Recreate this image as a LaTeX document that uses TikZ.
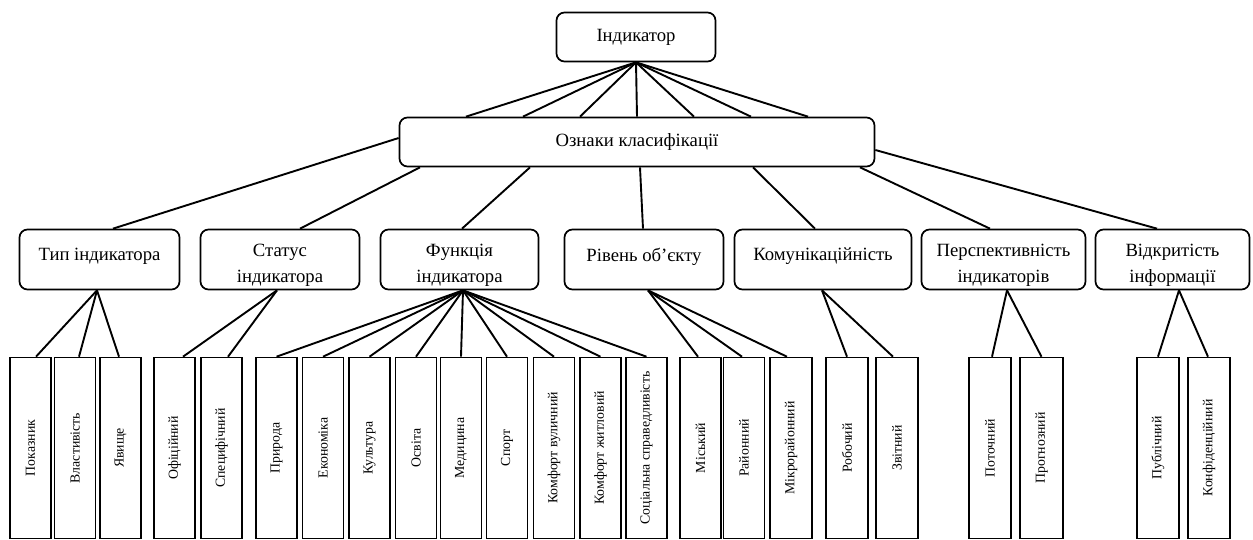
\documentclass[tikz,border=0pt]{standalone}
\usepackage{fontspec}
\setmainfont{Liberation Serif}
\usetikzlibrary{calc}
\begin{document}
\begin{tikzpicture}[x=1pt,y=-1pt,
  rbox/.style={draw,line width=1.7pt,rounded corners=8pt,inner sep=0pt},
  catbox/.style={rbox,minimum height=60pt},
  lbl/.style={align=center,inner sep=0pt,font=\fontsize{18.7}{26}\selectfont},
  leaf/.style={draw,line width=1.6pt,inner sep=0pt,minimum height=181pt,minimum width=41pt,font=\fontsize{13.8}{16}\selectfont},
  leafw/.style={leaf,minimum width=42.5pt},
  conn/.style={line width=1.9pt}]
\useasboundingbox (0,0) rectangle (1253,540);
% top
\node[rbox,minimum width=159pt,minimum height=49pt] (ind) at (636,37) {};
\node[lbl] (indT) at (ind.center) {Індикатор};
\node[rbox,minimum width=475pt,minimum height=49pt] (ozn) at (637,142) {};
\node[lbl] (oznT) at (ozn.center) {Ознаки класифікації};
% categories
\node[catbox,minimum width=160pt] (tip) at (99.5,259.5) {};
\node[catbox,minimum width=159pt] (stat) at (280,259.5) {};
\node[catbox,minimum width=158pt] (func) at (459.5,259.5) {};
\node[catbox,minimum width=159pt] (riv) at (644,259.5) {};
\node[catbox,minimum width=177pt] (kom) at (823,259.5) {};
\node[catbox,minimum width=164pt] (persp) at (1003.5,259.5) {};
\node[catbox,minimum width=154pt] (vidk) at (1172.5,259.5) {};
\node[lbl] (tipT) at ([yshift=3pt]tip.center) {Тип індикатора};
\node[lbl] (statT) at ([yshift=-6pt]stat.center) {Статус\\індикатора};
\node[lbl] (funcT) at ([yshift=-6pt]func.center) {Функція\\індикатора};
\node[lbl] (rivT) at ([yshift=3pt]riv.center) {Рівень об’єкту};
\node[lbl] (komT) at ([yshift=3pt]kom.center) {Комунікаційність};
\node[lbl] (perspT) at ([yshift=-6pt]persp.center) {Перспективність\\індикаторів};
\node[lbl] (vidkT) at ([yshift=-6pt]vidk.center) {Відкритість\\інформації};
% leaves
\node[leaf] (l1) at (30.5,448) {\rotatebox{90}{Показник}};
\node[leaf] (l2) at (75,448) {\rotatebox{90}{Властивість}};
\node[leaf] (l3) at (120.5,448) {\rotatebox{90}{Явище}};
\node[leaf] (l4) at (174.5,448) {\rotatebox{90}{Офіційний}};
\node[leaf] (l5) at (221.5,448) {\rotatebox{90}{Специфічний}};
\node[leaf] (l6) at (276.5,448) {\rotatebox{90}{Природа}};
\node[leaf] (l7) at (323,448) {\rotatebox{90}{Економіка}};
\node[leaf] (l8) at (369.5,448) {\rotatebox{90}{Культура}};
\node[leaf] (l9) at (416,448) {\rotatebox{90}{Освіта}};
\node[leaf] (l10) at (461,448) {\rotatebox{90}{Медицина}};
\node[leaf] (l11) at (507,448) {\rotatebox{90}{Спорт}};
\node[leaf] (l12) at (554,448) {\rotatebox{90}{Комфорт вуличний}};
\node[leaf] (l13) at (600.5,448) {\rotatebox{90}{Комфорт житловий}};
\node[leaf] (l14) at (646.5,448) {\rotatebox{90}{Соціальна справедливість}};
\node[leaf] (l15) at (700.5,448) {\rotatebox{90}{Міський}};
\node[leaf] (l16) at (744,448) {\rotatebox{90}{Районний}};
\node[leafw] (l17) at (791,448) {\rotatebox{90}{Мікрорайонний}};
\node[leafw] (l18) at (847,448) {\rotatebox{90}{Робочий}};
\node[leafw] (l19) at (897,448) {\rotatebox{90}{Звітний}};
\node[leafw] (l20) at (990,448) {\rotatebox{90}{Поточний}};
\node[leafw] (l21) at (1041.5,448) {\rotatebox{90}{Прогнозний}};
\node[leafw] (l22) at (1158,448) {\rotatebox{90}{Публічний}};
\node[leafw] (l23) at (1209,448) {\rotatebox{90}{Конфіденційний}};
% ind -> ozn
\foreach \dx in {-171,-114,-57,0,57,114,171}
  \draw[conn] (ind.south) -- ([xshift=\dx pt]ozn.north);
% ozn -> categories
\draw[conn] ([yshift=4pt]ozn.west) -- ([xshift=13.5pt]tip.north);
\draw[conn] ([xshift=-217pt]ozn.south) -- ([xshift=20pt]stat.north);
\draw[conn] ([xshift=-107pt]ozn.south) -- ([xshift=2.5pt]func.north);
\draw[conn] ([xshift=3pt]ozn.south) -- ([xshift=-1pt]riv.north);
\draw[conn] ([xshift=116pt]ozn.south) -- ([xshift=-8pt]kom.north);
\draw[conn] ([xshift=223pt]ozn.south) -- ([xshift=-13.5pt]persp.north);
\draw[conn] ([yshift=-8pt]ozn.east) -- ([xshift=-15.5pt]vidk.north);
% categories -> leaves
\draw[conn] ([xshift=-2.5pt]tip.south) -- ([xshift=5.5pt]l1.north);
\draw[conn] ([xshift=-2.5pt]tip.south) -- ([xshift=4pt]l2.north);
\draw[conn] ([xshift=-2.5pt]tip.south) -- ([xshift=-1.5pt]l3.north);
\draw[conn] ([xshift=-3pt]stat.south) -- ([xshift=8.5pt]l4.north);
\draw[conn] ([xshift=-3pt]stat.south) -- ([xshift=6.5pt]l5.north);
\foreach \l in {l6,l7,l8,l9,l10,l11,l12,l13,l14}
  \draw[conn] ([xshift=3.5pt]func.south) -- (\l.north);
\draw[conn] ([xshift=4pt]riv.south) -- ([xshift=-2.5pt]l15.north);
\draw[conn] ([xshift=4pt]riv.south) -- ([xshift=-2pt]l16.north);
\draw[conn] ([xshift=4pt]riv.south) -- ([xshift=-4pt]l17.north);
\draw[conn] ([xshift=-1pt]kom.south) -- (l18.north);
\draw[conn] ([xshift=-1pt]kom.south) -- ([xshift=-4pt]l19.north);
\draw[conn] ([xshift=3.5pt]persp.south) -- ([xshift=2pt]l20.north);
\draw[conn] ([xshift=3.5pt]persp.south) -- (l21.north);
\draw[conn] ([xshift=6.5pt]vidk.south) -- (l22.north);
\draw[conn] ([xshift=6.5pt]vidk.south) -- ([xshift=-1pt]l23.north);
\end{tikzpicture}
\end{document}
